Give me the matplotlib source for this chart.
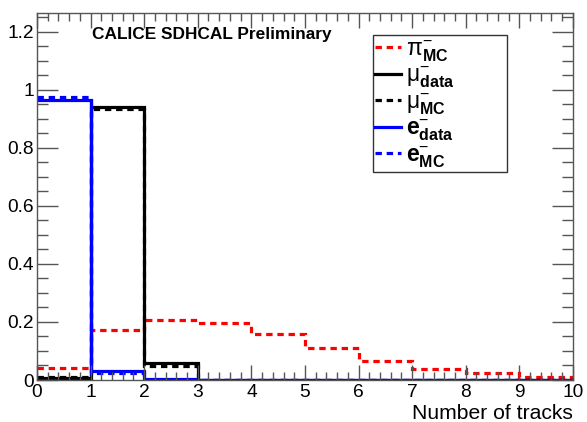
import matplotlib
matplotlib.use("Agg")
import matplotlib.pyplot as plt
from matplotlib.lines import Line2D
from matplotlib.ticker import MultipleLocator
import numpy as np

plt.rcParams['font.family'] = ['Liberation Sans', 'DejaVu Sans']
plt.rcParams['mathtext.fontset'] = 'custom'
plt.rcParams['mathtext.rm'] = 'Liberation Sans'
plt.rcParams['mathtext.it'] = 'Liberation Sans:italic'
plt.rcParams['mathtext.bf'] = 'Liberation Sans:bold'

edges = np.arange(0, 11, 1)
pi_mc = [0.042, 0.171, 0.207, 0.198, 0.159, 0.109, 0.065, 0.037, 0.023, 0.011]
mu_data = [0.008, 0.941, 0.058, 0, 0, 0, 0, 0, 0, 0]
mu_mc = [0.010, 0.934, 0.048, 0, 0, 0, 0, 0, 0, 0]
e_data = [0.966, 0.031, 0.002, 0, 0, 0, 0, 0, 0, 0]
e_mc = [0.975, 0.025, 0.001, 0, 0, 0, 0, 0, 0, 0]

fig = plt.figure(figsize=(5.87, 4.22), dpi=100)
ax = fig.add_axes([0.063, 0.0995, 0.913, 0.870])

lw = 2.3
dash = (0, (2, 1.5))
ax.stairs(pi_mc, edges, color='red', lw=lw, ls=dash, baseline=None)
ax.stairs(mu_data, edges, color='black', lw=lw, ls='-', baseline=None)
ax.stairs(mu_mc, edges, color='black', lw=lw, ls=dash, baseline=None)
ax.stairs(e_data, edges, color='blue', lw=lw, ls='-', baseline=None)
ax.stairs(e_mc, edges, color='blue', lw=lw, ls=dash, baseline=None)

ax.set_xlim(0, 10)
ax.set_ylim(0, 1.265)
ax.xaxis.set_minor_locator(MultipleLocator(0.2))
ax.yaxis.set_minor_locator(MultipleLocator(0.05))
ax.set_yticks([0, 0.2, 0.4, 0.6, 0.8, 1.0, 1.2])
ax.set_yticklabels(['0', '0.2', '0.4', '0.6', '0.8', '1', '1.2'])
ax.set_xticks(range(11))
ax.set_xticklabels([str(i) for i in range(11)])
ax.tick_params(which='both', direction='in', top=True, right=True, colors='#555555',
               labelcolor='black', labelsize=13.8)
ax.tick_params(axis='x', which='major', length=11, width=1, pad=3)
ax.tick_params(axis='x', which='minor', length=5.5, width=1)
ax.tick_params(axis='y', which='major', length=15, width=1, pad=2)
ax.tick_params(axis='y', which='minor', length=8, width=1)
for s in ax.spines.values():
    s.set_color('#555555')
    s.set_linewidth(1)

fig.text(573/587, 1 - 419/422, 'Number of tracks', ha='right', va='baseline', fontsize=15.2)
fig.text(92/587, 1 - 35/422, 'CALICE SDHCAL Preliminary', ha='left', va='center',
         fontsize=12.4, fontweight='bold')

handles = [
    Line2D([], [], color='red', lw=lw, ls=dash),
    Line2D([], [], color='black', lw=lw, ls='-'),
    Line2D([], [], color='black', lw=lw, ls=dash),
    Line2D([], [], color='blue', lw=lw, ls='-'),
    Line2D([], [], color='blue', lw=lw, ls=dash),
]
labels = [r'$\mathrm{π}^{-}_{\mathbf{MC}}$', r'$\mathrm{μ}^{-}_{\mathbf{data}}$',
          r'$\mathrm{μ}^{-}_{\mathbf{MC}}$',
          r'$\mathbf{e}^{-}_{\mathbf{data}}$', r'$\mathbf{e}^{-}_{\mathbf{MC}}$']
leg = fig.legend(handles, labels, loc='upper left',
                 bbox_to_anchor=(373/587, 1 - 35/422, (507-373)/587, 0.0),
                 mode='expand', frameon=True, fancybox=False, fontsize=16.5,
                 handlelength=1.1, handletextpad=0.25, labelspacing=0.0,
                 borderaxespad=0, borderpad=0.1)
leg.get_frame().set_edgecolor('black')
leg.get_frame().set_linewidth(1)

fig.savefig('out.png', dpi=100)
